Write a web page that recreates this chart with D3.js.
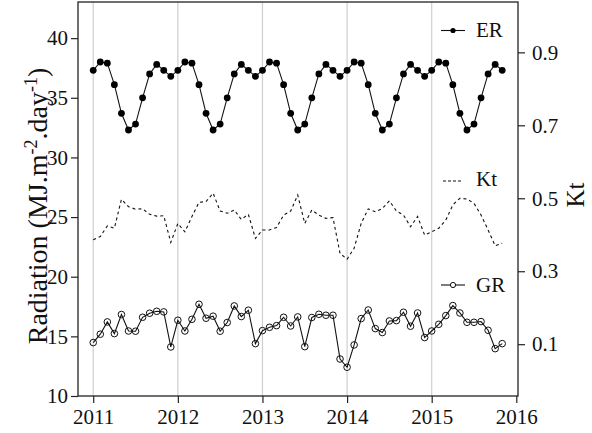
<!DOCTYPE html>
<html><head><meta charset="utf-8">
<script src="https://cdn.jsdelivr.net/npm/d3@7"></script>
<style>body{margin:0;background:#fff} svg{display:block}</style>
</head><body><svg id="c" width="592" height="433"></svg>
<script>
const startYear = 2011;
const erValues = [
  37.3, 38.0, 37.9, 36.1, 33.7, 32.3, 32.8, 35.0, 37.0, 37.8, 37.3, 36.8,
  37.3, 38.0, 37.9, 36.1, 33.7, 32.3, 32.8, 35.0, 37.0, 37.8, 37.3, 36.8,
  37.3, 38.0, 37.9, 36.1, 33.7, 32.3, 32.8, 35.0, 37.0, 37.8, 37.3, 36.8,
  37.3, 38.0, 37.9, 36.1, 33.7, 32.3, 32.8, 35.0, 37.0, 37.8, 37.3, 36.8,
  37.3, 38.0, 37.9, 36.1, 33.7, 32.3, 32.8, 35.0, 37.0, 37.8, 37.3
];
const grValues = [
  14.48, 15.18, 16.21, 15.23, 16.83, 15.45, 15.43, 16.60, 16.94, 17.10, 17.05, 14.11,
  16.35, 15.45, 16.43, 17.69, 16.52, 16.69, 15.43, 16.16, 17.55, 16.66, 17.19, 14.39,
  15.48, 15.76, 15.90, 16.60, 15.87, 16.63, 14.14, 16.58, 16.85, 16.77, 16.77, 13.10,
  12.41, 14.28, 16.49, 17.21, 15.65, 15.32, 16.29, 16.32, 17.02, 15.85, 16.96, 14.90,
  15.45, 16.01, 16.74, 17.58, 16.96, 16.18, 16.18, 16.24, 15.51, 13.97, 14.39
];
const ktValues = [
  0.386, 0.395, 0.424, 0.418, 0.497, 0.477, 0.470, 0.471, 0.456, 0.451, 0.452, 0.379,
  0.431, 0.408, 0.450, 0.489, 0.491, 0.514, 0.465, 0.459, 0.468, 0.442, 0.456, 0.390,
  0.413, 0.413, 0.420, 0.454, 0.465, 0.509, 0.431, 0.468, 0.454, 0.445, 0.447, 0.349,
  0.333, 0.363, 0.431, 0.471, 0.463, 0.472, 0.493, 0.465, 0.454, 0.422, 0.450, 0.399,
  0.408, 0.418, 0.440, 0.482, 0.500, 0.498, 0.486, 0.454, 0.413, 0.370, 0.377
];
const xTicks = [2011, 2012, 2013, 2014, 2015, 2016];
const gridYears = [2011, 2012, 2013, 2014, 2015];
const leftTicks = [10, 15, 20, 25, 30, 35, 40];
const rightTicks = [0.1, 0.3, 0.5, 0.7, 0.9];

const FONT = "'Liberation Serif','Times New Roman',serif";
const svg = d3.select("#c");
const L = 78, R = 518, T = 2, B = 396;

const x = d3.scaleLinear().domain([2010.82, 2016.02]).range([L, R]);
const yL = d3.scaleLinear().domain([10, 43.03]).range([B, T]);
const yR = d3.scaleLinear().domain([-0.042, 1.038]).range([B, T]);
const t = i => startYear + i / 12;

// grid
svg.append("g").selectAll("line").data(gridYears).join("line")
  .attr("x1", d => x(d)).attr("x2", d => x(d)).attr("y1", T).attr("y2", B)
  .attr("stroke", "#cfcfcf").attr("stroke-width", 1.2);

// axes
const ax = svg.append("g").attr("transform", `translate(0,${B})`)
  .call(d3.axisBottom(x).tickValues(xTicks).tickFormat(d3.format("d")).tickSize(7).tickPadding(6));
const ayl = svg.append("g").attr("transform", `translate(${L},0)`)
  .call(d3.axisLeft(yL).tickValues(leftTicks).tickSize(7).tickPadding(3));
const ayr = svg.append("g").attr("transform", `translate(${R},0)`)
  .call(d3.axisRight(yR).tickValues(rightTicks).tickFormat(d3.format(".1f")).tickSize(7).tickPadding(7));
[ax, ayl, ayr].forEach(g => {
  g.select(".domain").remove();
  g.selectAll("text").attr("font-family", FONT).attr("font-size", 21).attr("fill", "#111");
  g.selectAll("line").attr("stroke", "#222").attr("stroke-width", 1.2);
});

// frame
svg.append("rect").attr("x", L).attr("y", T).attr("width", R - L).attr("height", B - T)
  .attr("fill", "none").attr("stroke", "#222").attr("stroke-width", 1.3);

// lines
const lineL = d3.line().x((d, i) => x(t(i))).y(d => yL(d));
const lineR = d3.line().x((d, i) => x(t(i))).y(d => yR(d));

svg.append("path").datum(ktValues).attr("d", lineR)
  .attr("fill", "none").attr("stroke", "#111").attr("stroke-width", 1.1).attr("stroke-dasharray", "3,3");

svg.append("path").datum(erValues).attr("d", lineL)
  .attr("fill", "none").attr("stroke", "#111").attr("stroke-width", 1.1);
svg.append("g").selectAll("circle").data(erValues).join("circle")
  .attr("cx", (d, i) => x(t(i))).attr("cy", d => yL(d)).attr("r", 3.4).attr("fill", "#000");

svg.append("path").datum(grValues).attr("d", lineL)
  .attr("fill", "none").attr("stroke", "#111").attr("stroke-width", 1.1);
svg.append("g").selectAll("circle").data(grValues).join("circle")
  .attr("cx", (d, i) => x(t(i))).attr("cy", d => yL(d)).attr("r", 3.3)
  .attr("fill", "none").attr("stroke", "#111").attr("stroke-width", 1);

// legends
const leg = svg.append("g");
leg.append("line").attr("x1", 441).attr("x2", 465).attr("y1", 30.5).attr("y2", 30.5).attr("stroke", "#111").attr("stroke-width", 1.1);
leg.append("circle").attr("cx", 453).attr("cy", 30.5).attr("r", 2.6).attr("fill", "#000");
leg.append("text").attr("x", 476).attr("y", 37).text("ER");
leg.append("line").attr("x1", 443).attr("x2", 461).attr("y1", 181).attr("y2", 181).attr("stroke", "#111").attr("stroke-width", 1.1).attr("stroke-dasharray", "3,2");
leg.append("text").attr("x", 476).attr("y", 186).text("Kt");
leg.append("line").attr("x1", 441).attr("x2", 465).attr("y1", 285).attr("y2", 285).attr("stroke", "#111").attr("stroke-width", 1.1);
leg.append("circle").attr("cx", 453).attr("cy", 285).attr("r", 2.6).attr("fill", "#fff").attr("stroke", "#111").attr("stroke-width", 1);
leg.append("text").attr("x", 476).attr("y", 292).text("GR");
leg.selectAll("text").attr("font-family", FONT).attr("font-size", 21).attr("fill", "#111");

// axis titles
const yt = svg.append("text").attr("transform", "translate(47,206) rotate(-90)")
  .attr("text-anchor", "middle").attr("font-family", FONT).attr("font-size", 28).attr("fill", "#111");
yt.append("tspan").text("Radiation (MJ.m");
yt.append("tspan").attr("dy", -10).attr("font-size", 18).text("-2");
yt.append("tspan").attr("dy", 10).text(".day");
yt.append("tspan").attr("dy", -10).attr("font-size", 18).text("-1");
yt.append("tspan").attr("dy", 10).text(")");

svg.append("text").attr("transform", "translate(584,195) rotate(-90)")
  .attr("text-anchor", "middle").attr("font-family", FONT).attr("font-size", 25).attr("fill", "#111")
  .text("Kt");
</script>
</body></html>
